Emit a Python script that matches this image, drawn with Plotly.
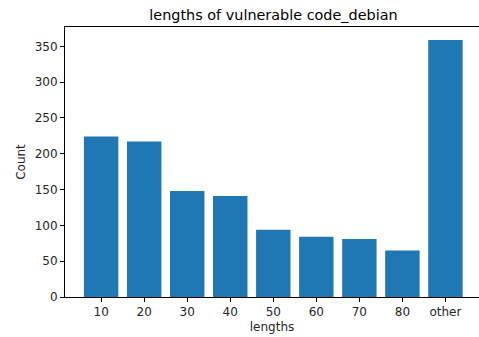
import plotly.graph_objects as go

categories = ["10", "20", "30", "40", "50", "60", "70", "80", "other"]
counts = [224, 217, 148, 141, 94, 84, 81, 65, 359]
y_ticks = [0, 50, 100, 150, 200, 250, 300, 350]

fig = go.Figure(go.Bar(
    x=list(range(len(categories))), y=counts,
    marker=dict(color="#1f77b4", line=dict(width=0)),
    width=0.8,
))

font = dict(family="DejaVu Sans", size=12, color="#262626")
fig.update_layout(
    width=479, height=337,
    margin=dict(l=65, r=0, t=27, b=40),
    paper_bgcolor="white", plot_bgcolor="white",
    font=font,
    showlegend=False,
    title=dict(text="lengths of vulnerable code_debian", x=273.5/479, xanchor="center",
               y=1-15/337, yanchor="middle", font=dict(family="DejaVu Sans", size=14.4, color="black")),
)
fig.update_xaxes(
    range=[-0.84, 8.78], tickmode="array", tickvals=list(range(len(categories))), ticktext=categories,
    showline=True, linecolor="black", linewidth=1, mirror=True,
    ticks="outside", ticklen=4, tickcolor="black", tickwidth=1,
    showgrid=False, zeroline=False,
    title=dict(text="lengths", standoff=4, font=font),
)
fig.update_yaxes(
    range=[0, 377], tickmode="array", tickvals=y_ticks,
    showline=True, linecolor="black", linewidth=1, mirror=False,
    ticks="outside", ticklen=4, tickcolor="black", tickwidth=1,
    showgrid=False, zeroline=False,
    title=dict(text="Count", standoff=6, font=font),
)
fig.write_html("out.html")
